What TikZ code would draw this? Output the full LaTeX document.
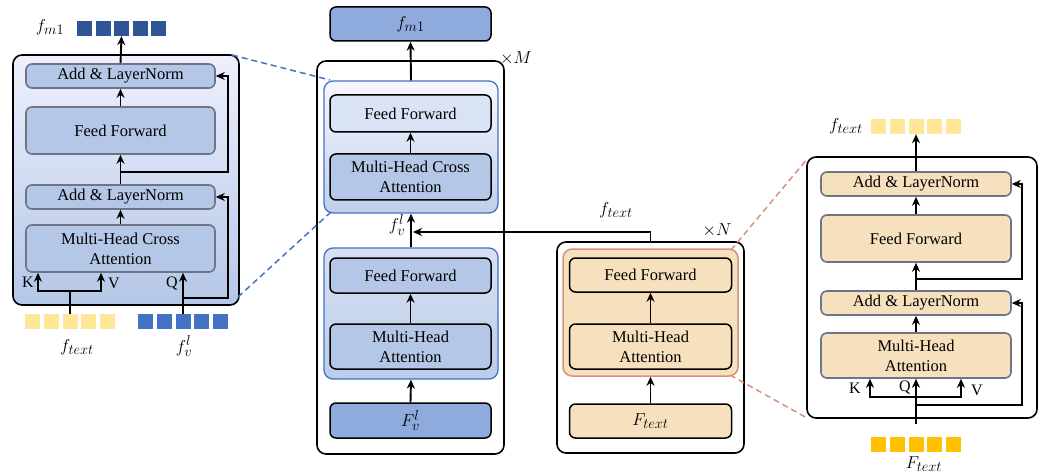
\documentclass[tikz,border=0pt]{standalone}
\usepackage{fontspec}
\setmainfont{Liberation Serif}
\usetikzlibrary{arrows.meta,calc}

\definecolor{bluefill}{HTML}{B4C7E7}
\definecolor{bluelight}{HTML}{DAE3F3}
\definecolor{bluedeep}{HTML}{8FAADC}
\definecolor{blueline}{HTML}{4472C4}
\definecolor{bluesq}{HTML}{2F5597}
\definecolor{bluesqb}{HTML}{4472C4}
\definecolor{tanfill}{HTML}{F6E0BD}
\definecolor{tanline}{HTML}{D4937A}
\definecolor{yellowsq}{HTML}{FFE699}
\definecolor{goldsq}{HTML}{FFC000}
\definecolor{greyline}{HTML}{6E7385}

\begin{document}
\begin{tikzpicture}[x=1pt,y=-1pt,
  txt/.style={font=\fontsize{16.5}{20}\selectfont},
  mth/.style={font=\fontsize{19}{22}\selectfont, inner sep=0},
  lbl/.style={font=\fontsize{16}{18}\selectfont, inner sep=0},
  panel/.style={draw=black, line width=1.6pt, rounded corners=9pt, inner sep=0},
  gbox/.style={txt, draw=greyline, line width=1.6pt, rounded corners=6pt, inner sep=0, align=center},
  kbox/.style={txt, draw=black, line width=1.5pt, rounded corners=6pt, inner sep=0, align=center},
  grp/.style={line width=1.3pt, rounded corners=9pt, inner sep=0},
  sq/.style={minimum size=15pt, inner sep=0},
  arr/.style={-{Stealth[length=9pt,width=8pt]}, line width=1.9pt},
  ln/.style={line width=1.9pt},
  dsh/.style={dashed, dash pattern=on 6pt off 4pt, line width=1.5pt}]
\useasboundingbox (0,0) rectangle (1044,473);

% ---------------- Left: cross-attention block in detail ----------------
\node[panel, top color=blue!5!white!95!bluefill, bottom color=bluefill,
      minimum width=226, minimum height=250] (lpanel) at (126,180) {};
\node[gbox, fill=bluefill, minimum width=189, minimum height=24] (lLN1) at (120.5,76) {Add \& LayerNorm};
\node[gbox, fill=bluefill, minimum width=189, minimum height=47] (lFF) at (120.5,130.5) {Feed Forward};
\node[gbox, fill=bluefill, minimum width=189, minimum height=24] (lLN2) at (120.5,197) {Add \& LayerNorm};
\node[gbox, fill=bluefill, minimum width=189, minimum height=47] (lMHCA) at (120.5,248.5) {Multi-Head Cross\\Attention};

\foreach \i in {0,...,4} {
  \node[sq, fill=bluesq] (lout\i) at ({84.5+\i*18.5},28.5) {};
  \node[sq, fill=yellowsq] (ltx\i) at ({32.5+\i*18.75},321.5) {};
  \node[sq, fill=bluesqb] (lfv\i) at ({145.5+\i*18.75},321.5) {};
}
\node[mth] (lfmlab) at (50,27) {$f_{m1}$};
\node[mth] (ltxlab) at (77,347) {$f_{text}$};
\node[mth] (lfvlab) at (184,346) {$f_v^l$};

\draw[arr] (lLN1.north) -- (lout2.south);
\draw[arr] (lFF.north) -- (lLN1.south);
\draw[arr] (lLN2.north) -- (lFF.south);
\draw[arr] (lMHCA.north) -- (lLN2.south);

% K / V from text features, Q from visual features
\coordinate (lkv) at (70,291);
\coordinate (lK) at (38,291);
\coordinate (lV) at (101,291);
\draw[ln] (ltx2.north) -- (lkv);
\draw[ln, line cap=rect] (lK) -- (lV);
\draw[arr] (lK) -- (lK |- lMHCA.south);
\draw[arr] (lV) -- (lV |- lMHCA.south);
\draw[arr] (lfv2.north) -- (lfv2.north |- lMHCA.south);
\node[lbl] (lKl) at (28,282) {K};
\node[lbl] (lVl) at (114,283) {V};
\node[lbl] (lQl) at (172,283) {Q};

% residual connections
\coordinate (lr2) at (183,298);
\draw[arr] (lr2) -- (228,298) -- (228,197) -- (lLN2.east);
\coordinate (lr1) at (121,172);
\draw[arr] (lr1) -- (228,172) -- (228,76) -- (lLN1.east);

% ---------------- Middle: visual branch (x M) ----------------
\node[kbox, fill=bluedeep, minimum width=161, minimum height=34, font=\fontsize{19}{22}\selectfont] (mout) at (410.5,24) {$f_{m1}$};
\node[panel, minimum width=187, minimum height=393] (mM) at (410.5,257.5) {};
\node[txt, inner sep=0] (mMl) at (516,58) {$\times M$};

\node[grp, draw=blueline, top color=blue!3!white, bottom color=bluefill!85!white,
      minimum width=174, minimum height=132] (mG1) at (411,147) {};
\node[kbox, fill=bluelight, minimum width=161, minimum height=37] (mFF1) at (410.5,113.5) {Feed Forward};
\node[kbox, fill=bluefill, minimum width=161, minimum height=46] (mMHCA) at (410.5,177) {Multi-Head Cross\\Attention};

\node[grp, draw=blueline, top color=bluefill!55!white, bottom color=bluefill!90!white,
      minimum width=174, minimum height=131] (mG2) at (411,313.5) {};
\node[kbox, fill=bluefill, minimum width=161, minimum height=35] (mFF2) at (410.5,275.5) {Feed Forward};
\node[kbox, fill=bluefill, minimum width=161, minimum height=45] (mMHA) at (410.5,346.5) {Multi-Head\\Attention};
\node[kbox, fill=bluedeep, minimum width=161, minimum height=35, font=\fontsize{19}{22}\selectfont] (mFv) at (410.5,420.5) {$F_v^l$};

\draw[arr] (mG1.north) -- (mout.south);
\draw[arr] (mMHCA.north) -- (mFF1.south);
\draw[arr] (mG2.north) -- (mG1.south);
\draw[arr] (mMHA.north) -- (mFF2.south);
\draw[arr] (mFv.north) -- (mG2.south);
\node[mth] (mfvl) at (397,225) {$f_v^l$};

% ---------------- Middle right: text branch (x N) ----------------
\node[panel, minimum width=187, minimum height=211] (nN) at (650.5,347.5) {};
\node[txt, inner sep=0] (nNl) at (717,230) {$\times N$};
\node[grp, draw=tanline, line width=1.5pt, fill=tanfill,
      minimum width=175, minimum height=127] (nG) at (650.5,312.5) {};
\node[kbox, fill=tanfill, minimum width=162, minimum height=34] (nFF) at (650.5,275) {Feed Forward};
\node[kbox, fill=tanfill, minimum width=162, minimum height=45] (nMHA) at (650.5,346.5) {Multi-Head\\Attention};
\node[kbox, fill=tanfill, minimum width=162, minimum height=34, font=\fontsize{19}{22}\selectfont] (nF) at (650.5,421) {$F_{text}$};
\draw[arr] (nMHA.north) -- (nFF.south);
\draw[arr] (nF.north) -- (nG.south);

% text features fed into the cross attention
\coordinate (mvin) at (413,232);
\draw[arr] (nN.north) |- (mvin);
\node[mth] (ftl) at (616,210) {$f_{text}$};

% ---------------- Right: self-attention block in detail ----------------
\node[panel, fill=white, minimum width=230, minimum height=261] (rpanel) at (922,287.5) {};
\node[gbox, fill=tanfill, minimum width=190, minimum height=24] (rLN1) at (916,184) {Add \& LayerNorm};
\node[gbox, fill=tanfill, minimum width=190, minimum height=47] (rFF) at (916,238.5) {Feed Forward};
\node[gbox, fill=tanfill, minimum width=190, minimum height=24] (rLN2) at (916,303) {Add \& LayerNorm};
\node[gbox, fill=tanfill, minimum width=190, minimum height=45] (rMHA) at (916,355.5) {Multi-Head\\Attention};

\foreach \i in {0,...,4} {
  \node[sq, fill=yellowsq] (rtx\i) at ({878.5+\i*18.75},126.5) {};
  \node[sq, fill=goldsq] (rFt\i) at ({878.5+\i*18.75},444.5) {};
}
\node[mth] (rtxl) at (846,126) {$f_{text}$};
\node[mth] (rFtl) at (924,464) {$F_{text}$};

\draw[arr] (rLN1.north) -- (rtx2.south);
\draw[arr] (rFF.north) -- (rLN1.south);
\draw[arr] (rLN2.north) -- (rFF.south);
\draw[arr] (rMHA.north) -- (rLN2.south);

\coordinate (rin) at (916,424);
\coordinate (rK) at (870,397);
\coordinate (rV) at (961,397);
\draw[ln, line cap=rect] (rK) -- (rV);
\draw[arr] (rK) -- (rK |- rMHA.south);
\draw[arr] (rV) -- (rV |- rMHA.south);
\draw[arr] (rin) -- (rMHA.south);
\node[lbl] (rKl) at (855,388) {K};
\node[lbl] (rQl) at (905,387) {Q};
\node[lbl] (rVl) at (977,390) {V};

\coordinate (rr2) at (916,405);
\draw[arr] (rr2) -- (1022,405) -- (1022,303) -- (rLN2.east);
\coordinate (rr1) at (916,279);
\draw[arr] (rr1) -- (1022,279) -- (1022,184) -- (rLN1.east);

% ---------------- zoom guides ----------------
\draw[dsh, draw=blueline] (232,55) -- (330,80);
\draw[dsh, draw=blueline] (238,297) -- (331,212);
\draw[dsh, draw=tanline] (731,250) -- (808,158);
\draw[dsh, draw=tanline] (730,375) -- (807,418);
\end{tikzpicture}
\end{document}
